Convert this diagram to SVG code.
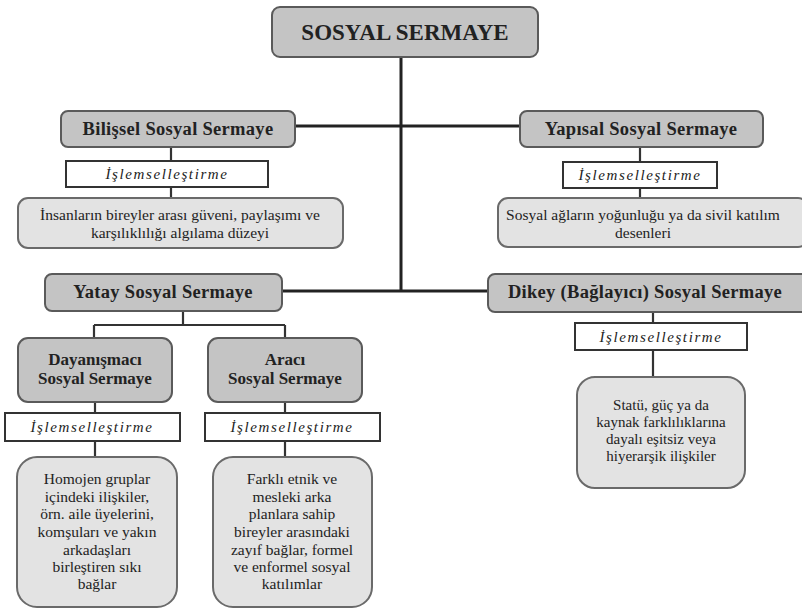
<svg xmlns="http://www.w3.org/2000/svg" width="802" height="610" viewBox="0 0 802 610">
<style>
.hdr{fill:#c4c4c4;stroke:#5a5a5a;stroke-width:2}
.op{fill:#fff;stroke:#333;stroke-width:2}
.desc{fill:#e3e3e3;stroke:#6a6a6a;stroke-width:2}
text{fill:#222;text-anchor:middle}
.b{font-weight:bold}
.h{font-size:18.5px;letter-spacing:0.3px}
.it{font-style:italic;font-size:15px;letter-spacing:1.6px}
.d{font-size:15.5px}
.main{stroke:#222;stroke-width:3;fill:none}
.sub{stroke:#333;stroke-width:2.2;fill:none}
</style>
<rect width="802" height="610" fill="#fff"/>
<g id="connectors">
<path class="main" d="M401 57 V290 M295 126 H520 M282 291 H488"/>
<path class="sub" d="M171 147 V161 M171 187 V198 M640 147 V162 M640 188 V198"/>
<path class="sub" d="M183 311 V325 M94 325 H285 M94 325 V338 M285 325 V338"/>
<path class="sub" d="M95 402 V413 M95 441 V457 M285 402 V413 M285 441 V457"/>
<path class="sub" d="M653 312 V323 M653 350 V377"/>
</g>
<g font-family="'Liberation Serif', 'DejaVu Serif', serif">
<g id="sosyal-sermaye">
<rect class="hdr" x="272" y="7" width="266" height="50" rx="8"/>
<text class="b" x="405" y="40" font-size="23">SOSYAL SERMAYE</text>
</g>
<g id="bilissel">
<rect class="hdr" x="61" y="111" width="234" height="36" rx="7"/>
<text class="b h" x="178" y="135">Bilişsel Sosyal Sermaye</text>
</g>
<g id="bilissel-op">
<rect class="op" x="66" y="161" width="202" height="26"/>
<text class="it" x="167" y="179">İşlemselleştirme</text>
</g>
<g id="bilissel-desc">
<rect class="desc" x="18" y="198" width="325" height="50" rx="10"/>
<text class="d" x="180" y="220">İnsanların bireyler arası güveni, paylaşımı ve</text>
<text class="d" x="180" y="238">karşılıklılığı algılama düzeyi</text>
</g>
<g id="yapisal">
<rect class="hdr" x="520" y="111" width="243" height="36" rx="7"/>
<text class="b h" x="641" y="135">Yapısal Sosyal Sermaye</text>
</g>
<g id="yapisal-op">
<rect class="op" x="563" y="162" width="154" height="26"/>
<text class="it" x="640" y="180">İşlemselleştirme</text>
</g>
<g id="yapisal-desc">
<rect class="desc" x="498" y="198" width="310" height="49" rx="10"/>
<text class="d" x="643" y="220">Sosyal ağların yoğunluğu ya da sivil katılım</text>
<text class="d" x="643" y="238">desenleri</text>
</g>
<g id="yatay">
<rect class="hdr" x="45" y="274" width="237" height="37" rx="7"/>
<text class="b h" x="163" y="298">Yatay Sosyal Sermaye</text>
</g>
<g id="dikey">
<rect class="hdr" x="488" y="274" width="320" height="38" rx="7"/>
<text class="b h" x="645" y="298">Dikey (Bağlayıcı) Sosyal Sermaye</text>
</g>
<g id="dikey-op">
<rect class="op" x="575" y="323" width="172" height="27"/>
<text class="it" x="661" y="342">İşlemselleştirme</text>
</g>
<g id="dikey-desc">
<rect class="desc" x="577" y="377" width="168" height="111" rx="18"/>
<text x="661" y="410" font-size="15">Statü, güç ya da</text>
<text x="661" y="427" font-size="15">kaynak farklılıklarına</text>
<text x="661" y="444" font-size="15">dayalı eşitsiz veya</text>
<text x="661" y="461" font-size="15">hiyerarşik ilişkiler</text>
</g>
<g id="dayanismaci">
<rect class="hdr" x="18" y="338" width="154" height="64" rx="10"/>
<text class="b" x="95" y="365" font-size="17">Dayanışmacı</text>
<text class="b" x="95" y="384" font-size="17">Sosyal Sermaye</text>
</g>
<g id="dayanismaci-op">
<rect class="op" x="5" y="413" width="175" height="28"/>
<text class="it" x="92" y="432">İşlemselleştirme</text>
</g>
<g id="dayanismaci-desc">
<rect class="desc" x="17" y="457" width="160" height="150" rx="20"/>
<text class="d" x="97" y="484">Homojen gruplar</text>
<text class="d" x="97" y="502">içindeki ilişkiler,</text>
<text class="d" x="97" y="519">örn. aile üyelerini,</text>
<text class="d" x="97" y="537">komşuları ve yakın</text>
<text class="d" x="97" y="555">arkadaşları</text>
<text class="d" x="97" y="572">birleştiren sıkı</text>
<text class="d" x="97" y="589">bağlar</text>
</g>
<g id="araci">
<rect class="hdr" x="208" y="338" width="154" height="64" rx="10"/>
<text class="b" x="285" y="365" font-size="17">Aracı</text>
<text class="b" x="285" y="384" font-size="17">Sosyal Sermaye</text>
</g>
<g id="araci-op">
<rect class="op" x="205" y="413" width="175" height="28"/>
<text class="it" x="292" y="432">İşlemselleştirme</text>
</g>
<g id="araci-desc">
<rect class="desc" x="213" y="457" width="159" height="150" rx="20"/>
<text class="d" x="292" y="484">Farklı etnik ve</text>
<text class="d" x="292" y="502">mesleki arka</text>
<text class="d" x="292" y="519">planlara sahip</text>
<text class="d" x="292" y="537">bireyler arasındaki</text>
<text class="d" x="292" y="555">zayıf bağlar, formel</text>
<text class="d" x="292" y="572">ve enformel sosyal</text>
<text class="d" x="292" y="589">katılımlar</text>
</g>
</g>
</svg>
